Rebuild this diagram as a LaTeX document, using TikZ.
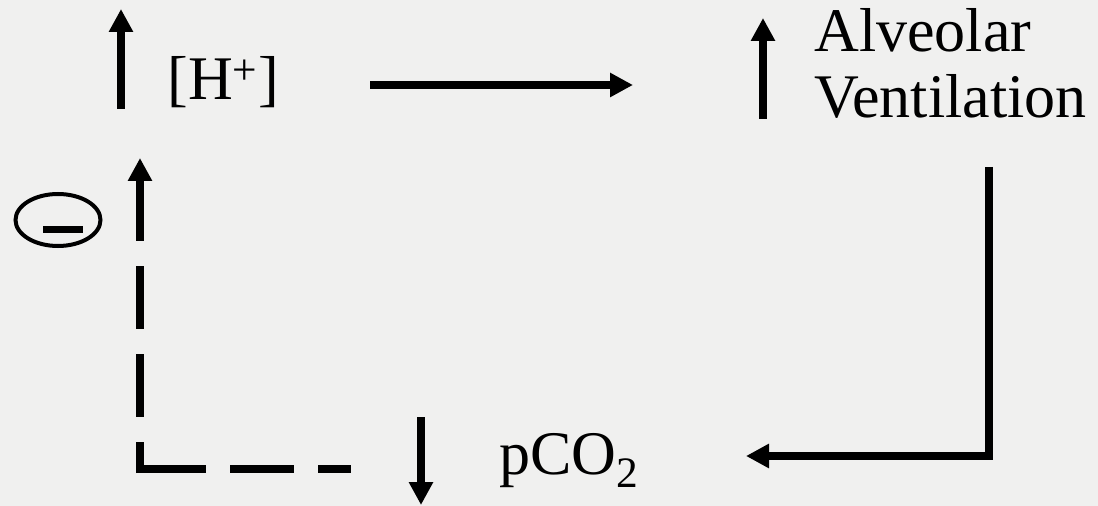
\documentclass[tikz,border=0pt]{standalone}
\usepackage{fontspec}
\setmainfont{Liberation Serif}
\definecolor{paper}{RGB}{240,240,239}
\usetikzlibrary{arrows.meta,positioning,shapes.geometric,calc}

\begin{document}
\begin{tikzpicture}[x=0.2mm, y=-0.2mm, every node/.style={font=\fontsize{35.3}{37.6}\selectfont, inner sep=0pt},
  lbl/.style={anchor=base west, align=left},
  flow/.style={line width=1.6mm, -{Triangle[length=4.6mm, width=4.6mm]}},
  inhib/.style={line width=1.6mm}]
% Background
\fill[paper] (0,0) rectangle (1098,506);
\useasboundingbox (0,0) rectangle (1098,506);
% Labels
\node[lbl] (hplus) at (167,100) {[H\textsuperscript{+}]};
\node[lbl] (vent) at (814,118) {Alveolar\\Ventilation};
\node[lbl] (pco) at (499,474) {pCO\textsubscript{2}};
\node[ellipse, draw, line width=0.8mm, minimum width=17mm, minimum height=10.4mm] (minus) at (58,220) {};
\fill ($(minus.center)+(-15,6)$) rectangle ++(40,7);
% Up/down marks
\coordinate (hup0) at (121,109); \coordinate (hup1) at (121,9);
\coordinate (vup0) at (763,119); \coordinate (vup1) at (763,18);
\coordinate (pdn0) at (421,417); \coordinate (pdn1) at (421,505);
\draw[flow] (hup0) -- (hup1);
\draw[flow] (vup0) -- (vup1);
\draw[flow] (pdn0) -- (pdn1);
% Loop
\coordinate (c1s) at (370,85); \coordinate (c1e) at (633,85);
\coordinate (c2s) at (989,167); \coordinate (c2e) at (746,456);
\coordinate (c3s) at (351,469); \coordinate (c3k) at (140,469); \coordinate (c3e) at (140,158);
\draw[flow] (c1s) -- (c1e);
\draw[flow] (c2s) |- (c2e);
\draw[inhib, dash pattern=on 14mm off 4.8mm on 12.8mm off 4.8mm on 12.8mm] ([xshift=-0.8mm]c3k) -- (c3s);
\draw[inhib, flow, dash pattern=on 12.6mm off 5mm, dash phase=6.4mm] ([yshift=-0.8mm]c3k) -- (c3e);
\end{tikzpicture}
\end{document}
